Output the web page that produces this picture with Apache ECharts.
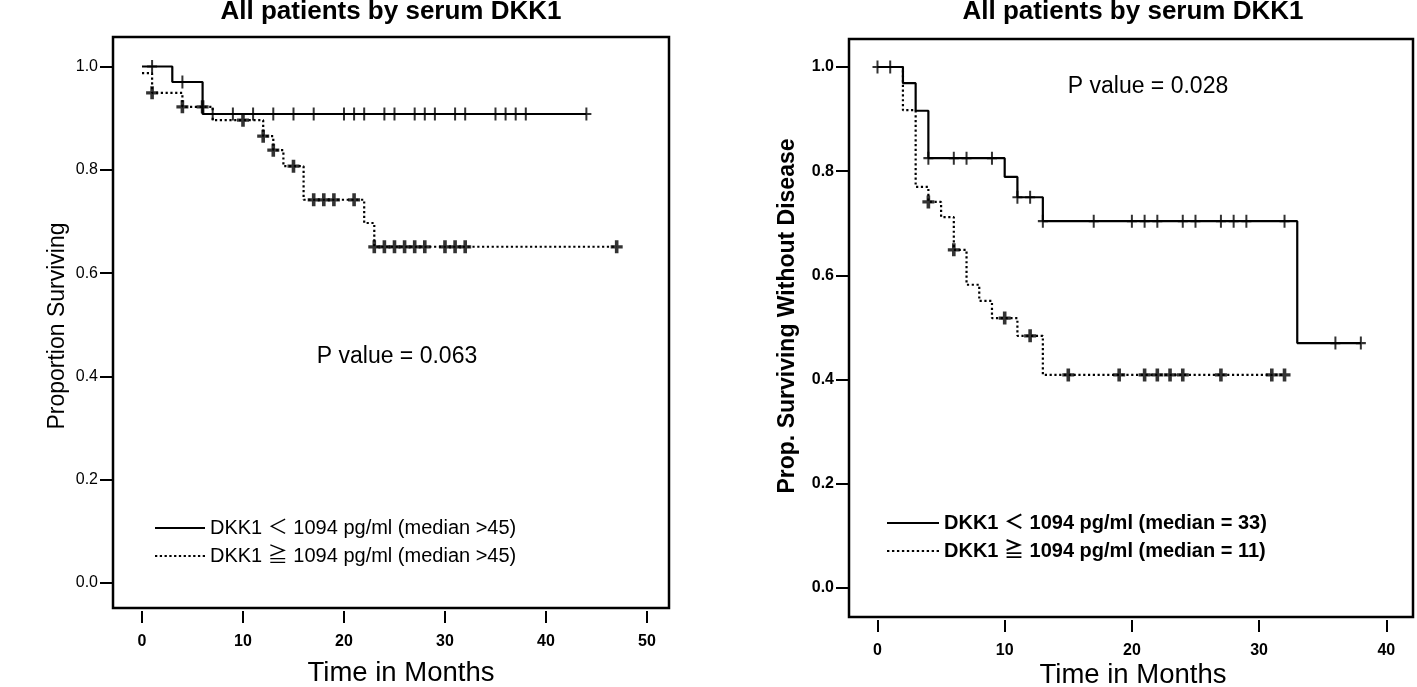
<!DOCTYPE html>
<html>
<head>
<meta charset="utf-8">
<script src="https://cdn.jsdelivr.net/npm/echarts@6/dist/echarts.min.js"></script>
<style>
html,body{margin:0;padding:0;background:#fff;}
#c{width:1417px;height:687px;}
</style>
</head>
<body>
<div id="c"></div>
<script>
// ---- data ----
const titleText = 'All patients by serum DKK1';
const leftXTicks = [0, 10, 20, 30, 40, 50];
const rightXTicks = [0, 10, 20, 30, 40];
const yTicks = [0, 0.2, 0.4, 0.6, 0.8, 1.0];

const leftLowName = 'DKK1 ＜ 1094 pg/ml (median >45)';
const leftHighName = 'DKK1 ≧ 1094 pg/ml (median >45)';
const rightLowName = 'DKK1 ＜ 1094 pg/ml (median = 33)';
const rightHighName = 'DKK1 ≧ 1094 pg/ml (median = 11)';

const leftLowCurve = [[0,1],[3,0.970],[6,0.908],[44,0.908]];
const leftLowCensor = [1,4,7,9,11,13,15,17,20,21,22,24,25,27,28,29,31,32,35,36,37,38,44];
const leftHighCurve = [[0,0.987],[1,0.949],[4,0.922],[7,0.896],[12,0.865],[13,0.838],[14,0.807],[16,0.742],[22,0.697],[23,0.651],[47,0.651]];
const leftHighCensor = [1,4,6,10,12,13,15,17,18,19,21,23,24,25,26,27,28,30,31,32,47];

const rightLowCurve = [[0,1],[2,0.969],[3,0.916],[4,0.825],[10,0.789],[11,0.750],[13,0.704],[33,0.470],[38,0.470]];
const rightLowCensor = [0,1,4,6,7,9,11,12,13,17,20,21,22,24,25,27,28,29,32,36,38];
const rightHighCurve = [[0,1],[2,0.917],[3,0.770],[4,0.741],[5,0.712],[6,0.649],[7,0.582],[8,0.551],[9,0.518],[11,0.484],[13,0.409],[32,0.409]];
const rightHighCensor = [4,6,10,12,15,19,21,22,23,24,27,31,32];

const leftP = 'P value = 0.063';
const rightP = 'P value = 0.028';

// ---- helpers ----
function stepAt(curve, t){ let v = curve[0][1]; for (const p of curve){ if (p[0] <= t) v = p[1]; } return v; }
function censorPts(curve, times){ return times.map(t => [t, stepAt(curve, t)]); }

const FONT = '"Liberation Sans", Arial, "Noto Sans CJK JP", sans-serif';
const thinCross = 'path://M4,0h2v5h4v2h-4v5h-2v-5h-4v-2h4z';
const boldCross = 'path://M3.5,0h3v4.5h3.5v3h-3.5v4.5h-3v-4.5h-3.5v-3h3.5z';
const DOT = [2.2, 2.6];

// legend sample icons (solid bar / row of dots), 50 x 2
const solidIcon = 'path://M0,0h50v2h-50z';
let dotted = 'path://';
for (let i = 0; i < 11; i++) dotted += 'M' + (i * 4.6) + ',0h2.2v2h-2.2z';
const dottedIcon = dotted;

function lineSeries(name, data, idx, isDotted){
  return { name, type:'line', step:'end', xAxisIndex:idx, yAxisIndex:idx, data, symbol:'none', silent:true,
    lineStyle:{ color:'#000', width:2.2, type: isDotted ? DOT : 'solid' }, itemStyle:{color:'#000'} };
}
function censorSeries(data, idx, bold){
  return { type:'scatter', xAxisIndex:idx, yAxisIndex:idx, data, symbol: bold ? boldCross : thinCross,
    symbolSize: bold ? [12,13] : [10,13], itemStyle:{ color:'#000' }, silent:true, z:3 };
}
function xAx(idx, min, max, ticks, margin){
  return { type:'value', gridIndex:idx, min, max, offset:3, position:'bottom',
    axisLine:{show:false, onZero:false}, splitLine:{show:false},
    axisTick:{show:true, inside:false, length:12, lineStyle:{color:'#000', width:2}, customValues:ticks},
    axisLabel:{color:'#000', fontSize:16, fontWeight:'bold', fontFamily:FONT, margin, customValues:ticks} };
}
function yAx(idx, min, max, bold){
  return { type:'value', gridIndex:idx, min, max, position:'left',
    axisLine:{show:false, onZero:false}, splitLine:{show:false},
    axisTick:{show:true, inside:false, length:13, lineStyle:{color:'#000', width:2}, customValues:yTicks},
    axisLabel:{color:'#000', fontSize:16, fontWeight: bold ? 'bold' : 'normal', fontFamily:FONT, margin:15,
      customValues:yTicks, formatter: v => v.toFixed(1)} };
}
function txt(text, x, y, size, weight, rot){
  return { type:'text', x, y, rotation: rot || 0, silent:true,
    style:{ text, fill:'#000', font: weight + ' ' + size + 'px ' + FONT, textAlign:'center', textVerticalAlign:'middle' } };
}

const chart = echarts.init(document.getElementById('c'), null, {renderer:'canvas'});
chart.setOption({
  backgroundColor:'#fff',
  animation:false,
  grid:[
    {left:113, top:37, width:556, height:571, show:true, borderColor:'#000', borderWidth:2.5, backgroundColor:'transparent'},
    {left:849, top:39, width:564, height:578, show:true, borderColor:'#000', borderWidth:2.5, backgroundColor:'transparent'}
  ],
  xAxis:[ xAx(0, -2.871, 52.18, leftXTicks, 23), xAx(1, -2.24, 42.1, rightXTicks, 23) ],
  yAxis:[ yAx(0, -0.0484, 1.0571, false), yAx(1, -0.0557, 1.0537, true) ],
  legend:[
    { data:[{name:leftLowName, icon:solidIcon}, {name:leftHighName, icon:dottedIcon}], orient:'vertical', left:150, top:513,
      itemWidth:50, itemHeight:2.2, itemGap:8, selectedMode:false, itemStyle:{color:'#000'},
      textStyle:{color:'#000', fontSize:20, fontFamily:FONT} },
    { data:[{name:rightLowName, icon:solidIcon}, {name:rightHighName, icon:dottedIcon}], orient:'vertical', left:882, top:508,
      itemWidth:52, itemHeight:2.2, itemGap:8, selectedMode:false, itemStyle:{color:'#000'},
      textStyle:{color:'#000', fontSize:20, fontWeight:'bold', fontFamily:FONT} }
  ],
  graphic:[
    txt(titleText, 391, 12, 26, 'bold'),
    txt(titleText, 1133, 12, 26, 'bold'),
    txt(leftP, 397, 357, 23, 'normal'),
    txt(rightP, 1148, 87, 23, 'normal'),
    txt('Proportion Surviving', 58, 326, 23, 'normal', Math.PI/2),
    txt('Prop. Surviving Without Disease', 788, 316, 23, 'bold', Math.PI/2),
    txt('Time in Months', 401, 673, 27.5, 'normal'),
    txt('Time in Months', 1133, 675, 27.5, 'normal')
  ],
  series:[
    lineSeries(leftLowName, leftLowCurve, 0, false),
    lineSeries(leftHighName, leftHighCurve, 0, true),
    censorSeries(censorPts(leftLowCurve, leftLowCensor), 0, false),
    censorSeries(censorPts(leftHighCurve, leftHighCensor), 0, true),
    lineSeries(rightLowName, rightLowCurve, 1, false),
    lineSeries(rightHighName, rightHighCurve, 1, true),
    censorSeries(censorPts(rightLowCurve, rightLowCensor), 1, false),
    censorSeries(censorPts(rightHighCurve, rightHighCensor), 1, true)
  ]
});
</script>
</body>
</html>
